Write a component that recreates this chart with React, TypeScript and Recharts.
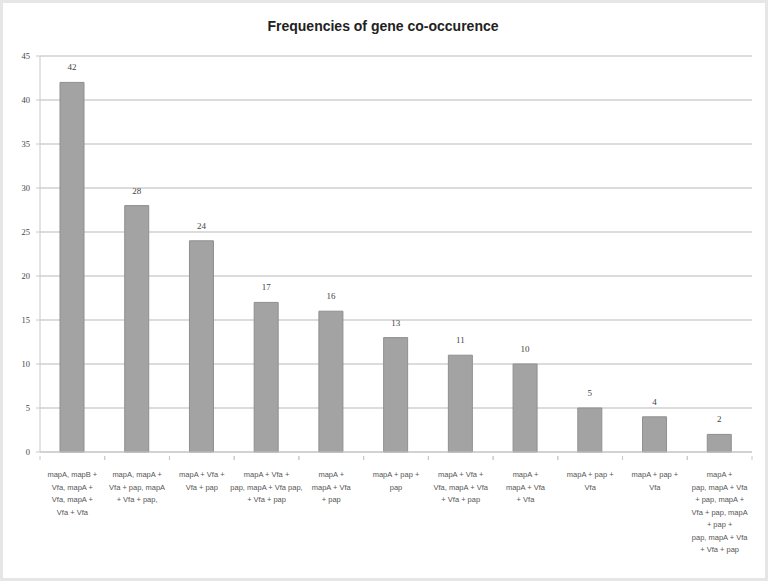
import React from 'react';
import { BarChart, Bar, XAxis, YAxis, CartesianGrid, LabelList } from 'recharts';

const categories: string[][] = [
  ['mapA, mapB +', 'Vfa, mapA +', 'Vfa, mapA +', 'Vfa + Vfa'],
  ['mapA, mapA +', 'Vfa + pap, mapA', '+ Vfa + pap,'],
  ['mapA + Vfa +', 'Vfa + pap'],
  ['mapA + Vfa +', 'pap, mapA + Vfa pap,', '+ Vfa + pap'],
  ['mapA +', 'mapA + Vfa', '+ pap'],
  ['mapA + pap +', 'pap'],
  ['mapA + Vfa +', 'Vfa, mapA + Vfa', '+ Vfa + pap'],
  ['mapA +', 'mapA + Vfa', '+ Vfa'],
  ['mapA + pap +', 'Vfa'],
  ['mapA + pap +', 'Vfa'],
  ['mapA +', 'pap, mapA + Vfa', '+ pap, mapA +', 'Vfa + pap, mapA', '+ pap +', 'pap, mapA + Vfa', '+ Vfa + pap'],
];
const counts: number[] = [42, 28, 24, 17, 16, 13, 11, 10, 5, 4, 2];
const yTicks: number[] = [0, 5, 10, 15, 20, 25, 30, 35, 40, 45];

const data = categories.map((c, i) => ({ name: String(i), lines: c, value: counts[i] }));

const CatTick = (props: any) => {
  const { x, y, payload } = props;
  const lines = categories[Number(payload.value)];
  const half = 712 / 11 / 2;
  return (
    <g>
      <line x1={x - half} y1={y - 4} x2={x - half} y2={y} stroke="#c8c8c8" strokeWidth={1} />
      <line x1={x + half} y1={y - 4} x2={x + half} y2={y} stroke="#c8c8c8" strokeWidth={1} />
      <text x={x} y={y + 17} textAnchor="middle" fontSize={7.5} fill="#555" fontFamily="'Liberation Sans', Arial, sans-serif">
        {lines.map((l, i) => (
          <tspan key={i} x={x} dy={i === 0 ? 0 : 12.5}>{l}</tspan>
        ))}
      </text>
    </g>
  );
};

export default function App() {
  return (
    <div style={{ position: 'absolute', left: 0, top: 0, width: 768, height: 581, background: '#fff', boxSizing: 'border-box', border: '3px solid #e6e6e6' }}>
      <div style={{ position: 'absolute', left: 0, top: 0 }}>
        <BarChart width={762} height={575} data={data} margin={{ top: 53, right: 13, left: 0, bottom: 0 }} barCategoryGap={0}>
          <text x={380} y={28} textAnchor="middle" fontSize={14} fontWeight="bold" fill="#222" fontFamily="'Liberation Sans', Arial, sans-serif">Frequencies of gene co-occurence</text>
          <CartesianGrid vertical={false} stroke="#dcdcdc" strokeWidth={2} />
          <XAxis dataKey="name" interval={0} height={126} tickLine={false} axisLine={{ stroke: '#c8c8c8' }} tick={<CatTick />} />
          <YAxis domain={[0, 45]} ticks={yTicks} width={37} axisLine={{ stroke: '#c8c8c8' }} tickLine={{ stroke: '#c8c8c8' }} tickSize={4} tickMargin={6} tick={{ fontSize: 8.5, fill: '#444', fontFamily: "'Liberation Serif', serif" }} />
          <Bar dataKey="value" fill="#a3a3a3" stroke="#8f8f8f" strokeWidth={1} barSize={24} isAnimationActive={false}>
            <LabelList dataKey="value" position="top" offset={12} fontSize={9} fill="#444" fontFamily="'Liberation Serif', serif" />
          </Bar>
        </BarChart>
      </div>
    </div>
  );
}
